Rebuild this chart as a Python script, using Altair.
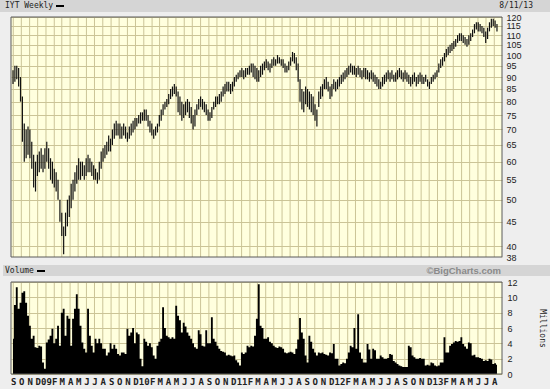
import altair as alt
import pandas as pd

# ---------------- data ----------------
weekly_high = [
    93, 95, 95, 94, 90, 82, 72, 70, 71, 70,
    66, 62, 60, 62, 63, 64, 62, 64, 66, 64,
    61, 60, 58, 57, 55, 50, 47, 44, 47, 50,
    51, 54, 55, 57, 59, 61, 60, 60, 59, 61,
    62, 61, 60, 59, 58, 57, 60, 63, 64, 65,
    66, 68, 67, 70, 72, 73, 72, 72, 71, 72,
    71, 69, 71, 72, 73, 74, 74, 75, 76, 76,
    77, 77, 75, 73, 72, 70, 71, 72, 75, 77,
    79, 80, 81, 83, 85, 86, 87, 86, 84, 82,
    80, 79, 80, 81, 80, 78, 75, 77, 79, 81,
    82, 81, 80, 79, 77, 76, 78, 80, 82, 82,
    83, 84, 86, 87, 88, 88, 87, 88, 90, 91,
    92, 93, 94, 93, 94, 94, 95, 96, 96, 95,
    94, 93, 95, 96, 97, 98, 97, 96, 98, 99,
    98, 100, 99, 98, 98, 96, 95, 97, 99, 101.5,
    101, 99, 96, 89, 85, 84, 86, 85, 84, 83,
    82, 79, 77, 84, 86, 87, 89, 90, 88, 86,
    87, 89, 88, 89, 90, 91, 92, 93, 94, 95,
    96, 95, 95, 94, 95, 94, 93, 94, 94, 93,
    92, 93, 92, 91, 90, 89, 88, 90, 91, 92,
    93, 92, 93, 91, 92, 93, 94, 93, 92, 93,
    92, 91, 90, 91, 92, 90, 91, 92, 91, 90,
    91, 89, 88, 90, 91, 92, 93, 96, 98, 99,
    101, 103, 104, 105, 106, 107, 108, 110, 111, 111,
    110, 109, 108, 110, 111, 113, 116, 117, 117, 116,
    115, 114, 112, 114, 117, 119, 119, 118, 116,
]
weekly_low = [
    87, 88, 89, 86, 80, 66, 60, 61, 62, 61,
    58, 53, 52, 56, 57, 58, 57, 58, 60, 58,
    55, 54, 53, 52, 50, 45, 42, 38.5, 42, 44,
    46, 48, 50, 52, 54, 55, 55, 56, 55, 56,
    57, 57, 56, 55, 55, 54, 55, 58, 60, 61,
    62, 63, 63, 65, 67, 68, 68, 67, 67, 68,
    67, 66, 67, 68, 69, 70, 71, 72, 72, 73,
    73, 73, 71, 69, 68, 67, 68, 69, 71, 73,
    75, 77, 78, 79, 81, 82, 83, 82, 76, 75,
    73, 74, 75, 76, 74, 72, 70, 71, 75, 77,
    78, 77, 76, 75, 73, 73, 74, 77, 78, 79,
    79, 80, 82, 83, 84, 84, 83, 84, 86, 88,
    89, 90, 90, 89, 90, 91, 91, 92, 90, 89,
    88, 88, 90, 91, 93, 94, 93, 92, 94, 95,
    95, 96, 96, 95, 94, 92, 92, 93, 95, 97,
    96, 93, 88, 80, 77, 76, 79, 78, 77, 76,
    75, 73, 71, 78, 81, 82, 85, 85, 84, 81,
    82, 85, 84, 85, 86, 87, 88, 89, 90, 91,
    92, 91, 91, 90, 91, 90, 89, 90, 89, 89,
    88, 89, 88, 87, 86, 85, 85, 86, 87, 88,
    89, 88, 89, 88, 88, 89, 90, 89, 88, 89,
    88, 87, 86, 87, 88, 86, 87, 88, 87, 87,
    88, 86, 85, 87, 88, 89, 90, 92, 94, 95,
    97, 99, 100, 101, 102, 103, 104, 106, 107, 107,
    106, 105, 104, 105, 107, 109, 111, 113, 112, 112,
    111, 109, 106, 108, 112, 114, 115, 114, 112,
]
weekly_volume = [
    4.6, 9.0, 11.3, 8.5, 9.3, 10.6, 10.8, 9.3, 7.6, 6.3,
    4.6, 5.0, 3.5, 3.4, 3.7, 3.6, 1.5, 0.7, 4.1, 4.5,
    5.0, 5.9, 4.0, 4.6, 6.3, 3.7, 8.0, 8.5, 5.0, 7.6,
    7.2, 3.7, 7.2, 8.5, 10.4, 8.5, 6.3, 4.1, 3.3, 2.8,
    8.5, 5.0, 3.7, 2.8, 4.6, 4.0, 4.6, 4.0, 3.3, 3.3,
    2.4, 2.8, 4.0, 3.3, 3.8, 3.3, 2.6, 2.4, 2.8, 2.8,
    2.6, 5.9, 5.0, 5.4, 6.0, 4.0, 5.4, 5.2, 2.0, 1.0,
    4.6, 4.2, 3.7, 4.0, 3.5, 2.4, 2.0, 3.7, 4.2, 4.6,
    8.7, 6.0, 5.0, 4.8, 4.6, 4.8, 4.6, 8.9, 7.6, 7.0,
    5.4, 6.7, 6.2, 5.4, 5.0, 4.6, 4.0, 3.5, 3.3, 5.7,
    5.2, 3.7, 3.6, 5.7, 4.0, 4.0, 7.4, 4.6, 4.2, 3.7,
    3.3, 3.0, 2.9, 2.8, 2.4, 2.5, 2.4, 2.3, 2.4, 1.8,
    1.5, 1.1, 2.8, 2.6, 2.8, 3.7, 3.5, 3.7, 3.6, 5.0,
    7.2, 11.7, 6.3, 6.0, 4.6, 4.6, 4.8, 4.2, 4.0, 3.7,
    3.5, 3.4, 3.6, 3.5, 3.3, 2.8, 2.7, 2.8, 2.9, 2.8,
    2.6, 3.3, 4.5, 7.3, 5.4, 4.6, 2.4, 1.5, 5.0, 4.2,
    3.3, 2.8, 2.4, 2.8, 2.7, 2.8, 2.6, 2.5, 2.4, 2.8,
    2.7, 3.9, 2.0, 2.0, 1.1, 1.3, 1.5, 1.4, 2.0, 2.8,
    3.7, 3.5, 6.0, 3.3, 7.8, 2.8, 2.0, 1.5, 1.5, 3.9,
    3.2, 2.0, 3.3, 3.1, 2.0, 2.0, 2.4, 2.2, 2.0, 2.0,
    2.1, 2.6, 2.5, 1.7, 1.5, 1.3, 1.1, 1.0, 0.9, 0.9,
    0.9, 3.7, 3.5, 2.4, 2.2, 2.0, 2.0, 2.1, 2.0, 2.0,
    1.1, 1.2, 1.1, 1.5, 1.4, 1.1, 1.0, 1.1, 1.5, 1.5,
    4.8, 2.8, 2.8, 3.7, 3.9, 4.1, 4.3, 4.2, 4.3, 4.8,
    3.9, 3.6, 3.3, 4.1, 4.0, 2.4, 2.5, 2.2, 2.2, 2.1,
    2.0, 1.7, 1.8, 1.7, 2.0, 1.9, 1.3, 1.4, 1.2,
]
price_ticks = [38, 40, 45, 50, 55, 60, 65, 70, 75, 80, 85, 90, 95, 100, 105, 110, 115, 120]
volume_ticks = [0, 2, 4, 6, 8, 10, 12]
first_week = "2008-08-31"
first_month = "2008-09-01"
last_month = "2013-08-01"
title_text = "IYT Weekly"
date_text = "8/11/13"
volume_text = "Volume"
credit_text = "\u00a9BigCharts.com"
volume_unit = "Millions"

# ---------------- styles ----------------
PAGE_BG = "#eeeeee"
HEADER_BG = "#d5d5d5"
PLOT_BG = "#ffffde"
GRID = "#cbc497"
FRAME = "#5a5a5a"
TXT = "#222222"
MONO = "DejaVu Sans Mono"
SANS = "Liberation Sans"

n = min(len(weekly_high), len(weekly_low), len(weekly_volume))
weeks = pd.date_range(first_week, periods=n, freq="7D")
df = pd.DataFrame({
    "week": weeks,
    "high": weekly_high[:n],
    "low": weekly_low[:n],
    "volume": weekly_volume[:n],
})
months = pd.DataFrame({"month": pd.date_range(first_month, last_month, freq="MS")})

month_ticks = [
    alt.DateTime(year=y, month=m, date=1)
    for y in range(2008, 2014) for m in range(1, 13)
    if (2008, 9) <= (y, m) <= (2013, 8)
]

x_scale = alt.Scale(domain=[
    alt.DateTime(year=2008, month=8, date=23, hours=12),
    alt.DateTime(year=2013, month=8, date=29, hours=18),
])
x_axis = alt.Axis(
    values=month_ticks,
    labelExpr="month(datum.value) == 0 ? timeFormat(datum.value, '%y') : slice(timeFormat(datum.value, '%b'), 0, 1)",
    grid=False, ticks=False, domain=False,
    labelFont=MONO, labelFontSize=9, labelFontWeight="bold", labelColor=TXT,
    labelPadding=3, labelOverlap=False, labelBound=False, labelFlush=False, title=None,
)
price_axis = alt.Axis(
    orient="right", values=price_ticks, grid=True, gridColor=GRID, ticks=False, domain=False,
    labelFont=SANS, labelFontSize=9, labelColor=TXT, labelPadding=4,
    labelOverlap=False, labelBound=False, labelFlush=False, title=None,
)
volume_axis = alt.Axis(
    orient="right", values=volume_ticks, grid=True, gridColor=GRID, ticks=False, domain=False,
    labelFont=SANS, labelFontSize=9, labelColor=TXT, labelPadding=5,
    labelOverlap=False, labelBound=False, labelFlush=False,
    title=volume_unit, titleFont=MONO, titleFontSize=8, titleFontWeight="normal", titleColor=TXT,
    titleAngle=90, titleX=39, titleY=311, titleAlign="center", titleBaseline="middle",
)

month_grid = alt.Chart(months).mark_rule(color=GRID, strokeWidth=1).encode(
    x=alt.X("month:T", scale=x_scale, axis=x_axis),
    y=alt.value(0), y2=alt.value(357),
)

base = alt.Chart(df)
volume_layer = base.mark_area(color="#000000", interpolate="step").encode(
    x=alt.X("week:T", scale=x_scale, axis=x_axis),
    y=alt.Y("volume:Q", scale=alt.Scale(domain=[0, 12], range=[357, 265], nice=False, zero=True), axis=volume_axis),
)
price_layer = base.mark_rule(color="#111111", strokeWidth=1.2).encode(
    x=alt.X("week:T", scale=x_scale, axis=x_axis),
    y=alt.Y("low:Q", scale=alt.Scale(type="log", domain=[38, 120], range=[240, 0], nice=False), axis=price_axis),
    y2="high:Q",
)

one = pd.DataFrame({"k": [0]})


def rect(x1, x2, y1, y2, **kw):
    return alt.Chart(one).mark_rect(**kw).encode(
        x=alt.value(x1), x2=alt.value(x2), y=alt.value(y1), y2=alt.value(y2))


def label(x, y, s, **kw):
    return alt.Chart(one).mark_text(**kw).encode(
        x=alt.value(x), y=alt.value(y), text=alt.value(s))


gap = rect(-11, 491, 240, 265, color=PAGE_BG)
top_bar = rect(-11, 539, -17, -5, color=HEADER_BG)
vol_bar = rect(-8, 539, 248, 259, color=HEADER_BG)
price_frame = rect(0, 491, 0, 240, filled=False, stroke=FRAME, strokeWidth=1)
volume_frame = rect(0, 491, 265, 357, filled=False, stroke=FRAME, strokeWidth=1)
title_dash = rect(45, 53, -12, -10, color="#000000")
vol_dash = rect(26, 34, 253, 255, color="#000000")

texts = [
    label(-6, -11, title_text, align="left", baseline="middle", font=MONO, fontSize=8, color=TXT),
    label(522, -11, date_text, align="right", baseline="middle", font=MONO, fontSize=8, color=TXT),
    label(-6, 254, volume_text, align="left", baseline="middle", font=MONO, fontSize=8, color=TXT),
    label(490, 254, credit_text, align="right", baseline="middle", font=SANS, fontSize=9.5,
          fontWeight="bold", color="#8a8a8a"),
]

chart = alt.layer(
    month_grid, volume_layer, price_layer, gap, top_bar, vol_bar, price_frame, volume_frame,
    title_dash, vol_dash, *texts,
).resolve_scale(y="independent").properties(
    width=491, height=357,
    autosize=alt.AutoSizeParams(type="none"),
    padding={"left": 11, "top": 17, "right": 48, "bottom": 15},
    background=PAGE_BG,
).configure_view(fill=PLOT_BG, stroke=None)

chart.save("out.html", embed_options={"renderer": "svg", "actions": False})
